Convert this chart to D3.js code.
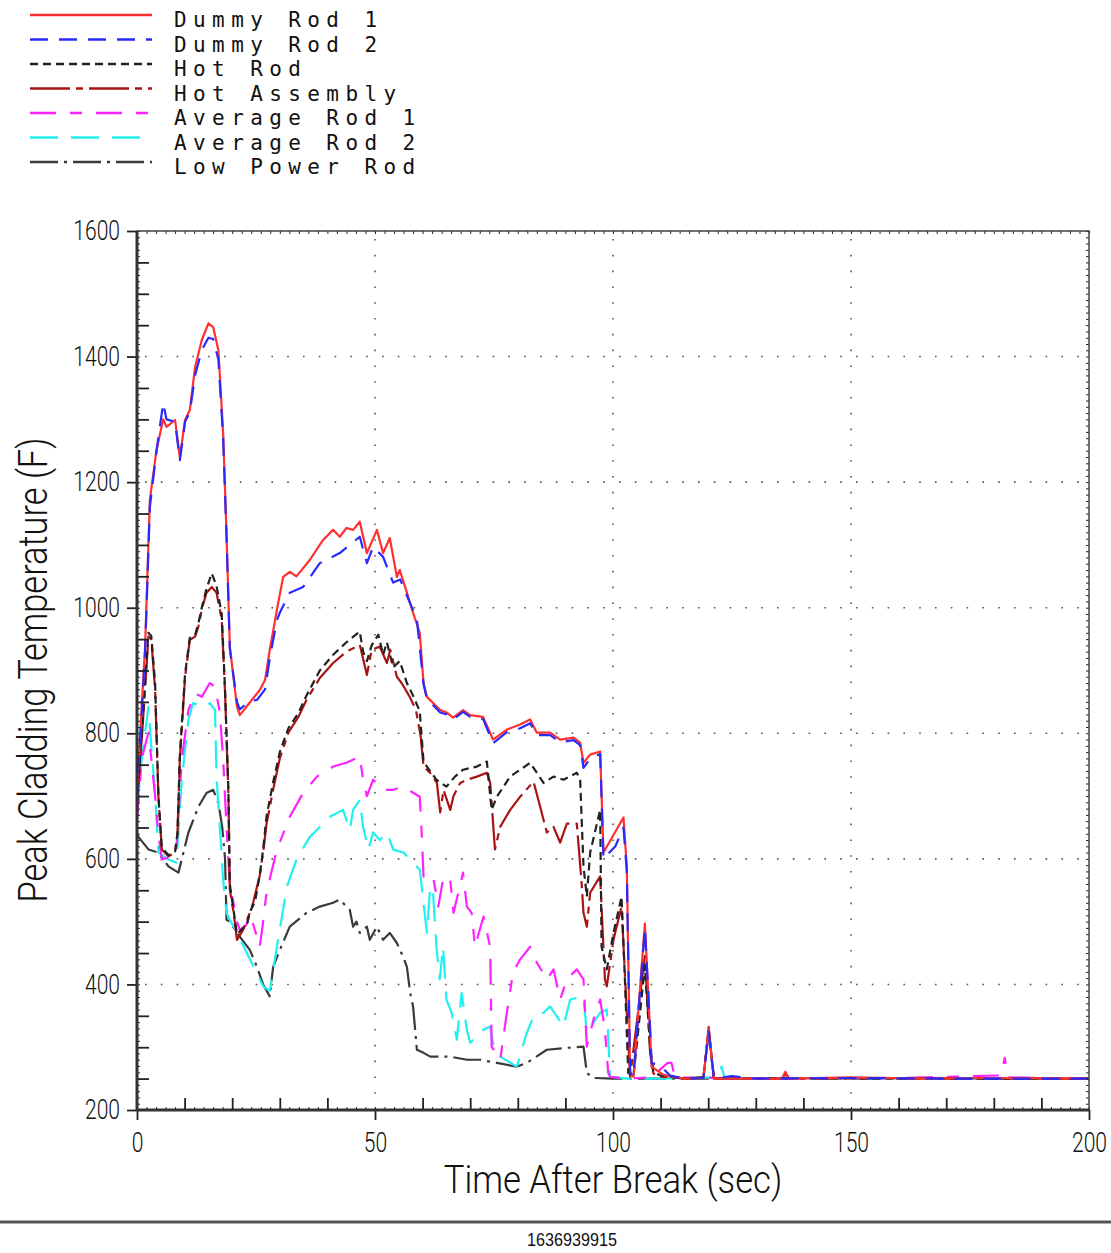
<!DOCTYPE html>
<html>
<head>
<meta charset="utf-8">
<script src="https://cdn.jsdelivr.net/npm/d3@7"></script>
<style>
  html, body { margin: 0; padding: 0; background: #fff; }
  svg { display: block; }
</style>
</head>
<body>
<svg id="chart" width="1111" height="1253"></svg>
<script>
// Peak cladding temperature vs time after break, seven rod groups.
// Values: [time (sec), temperature (F)].

const seriesNames = ['Dummy Rod 1', 'Dummy Rod 2', 'Hot Rod', 'Hot Assembly', 'Average Rod 1', 'Average Rod 2', 'Low Power Rod'];

const dummyRod1 = [
  [0,700],[0.6,790],[1.7,938],[2.7,1172],[4.1,1251],[5.5,1300],[6.2,1288],[8,1299],[9,1239],[10.1,1299],[11.1,1315],
  [12.2,1383],[13.6,1426],[15,1453],[16,1447],[17.1,1410],[18.1,1278],[18.8,1119],[19.5,938],[21,843],[21.6,829],
  [23.7,849],[25.8,869],[26.9,885],[27.9,933],[29.4,997],[30.7,1049],[32.1,1057],[33.5,1050],[36.3,1076],[39.1,1108],
  [41.2,1124],[42.6,1113],[44,1127],[45.4,1124],[46.8,1137],[48.3,1087],[50.4,1124],[51.7,1087],[53.1,1111],[54.6,1049],
  [55.2,1060],[56.7,1024],[58,992],[59.4,960],[60.2,880],[60.9,858],[63.7,837],[65.1,833],[66.4,825],[68.5,837],
  [70,829],[72.7,826],[74.8,790],[77.7,806],[80.5,814],[82.6,822],[84,801],[86.8,801],[88.9,790],[91.7,793],
  [93.1,785],[93.8,753],[95.2,766],[97.3,771],[98,610],[102.2,666],[102.9,588],[103.6,259],[104.3,253],[106.7,497],
  [107.8,323],[108.1,269],[110.6,256],[115,250],[119,251],[120.1,330],[121.2,250],[130,250],[135.5,250],[136.2,261],
  [137,250],[150,252],[165,250],[180,251],[200,250]
];

const dummyRod2 = [
  [0,690],[0.6,780],[1.7,930],[2.7,1160],[4.1,1250],[5.5,1326],[6.2,1300],[8,1296],[9,1235],[10.1,1296],[11.1,1312],
  [12.2,1370],[13.6,1410],[15,1430],[16,1428],[17.1,1395],[18.1,1270],[18.8,1115],[19.5,935],[21,850],[21.6,838],
  [23.7,852],[25.2,853],[26.9,870],[27.9,920],[29.4,980],[30,992],[32.1,1024],[34.9,1033],[38.4,1071],[42.6,1087],
  [46.8,1113],[48.3,1071],[49.6,1097],[51.7,1081],[53.8,1040],[55.3,1045],[58.8,981],[60.2,878],[60.9,855],[63.7,833],
  [65.1,830],[66.4,822],[68.5,834],[70,826],[72.7,823],[74.8,784],[77.7,802],[80.5,808],[82.6,816],[84,797],
  [86.8,797],[88.9,786],[91.7,789],[93.1,781],[93.8,745],[95.2,760],[97.3,767],[98,600],[100.5,620],[102.2,650],
  [102.9,580],[103.6,259],[104.3,253],[106.7,490],[107.8,330],[108.1,275],[110,270],[112,255],[115,250],[119,251],
  [120.1,325],[121.2,250],[125,254],[130,250],[150,251],[170,250],[200,250]
];

const hotRod = [
  [0,690],[1,800],[2.4,960],[3,955],[3.8,880],[4.5,700],[5.2,618],[6.6,606],[8,612],[8.5,640],[9,765],[10.1,895],
  [11.1,952],[12.2,957],[12.9,975],[13.6,1000],[14.6,1030],[15.7,1055],[16.7,1035],[17.8,990],[18.5,870],[19.2,710],
  [19.5,560],[21,480],[22.3,490],[23.1,495],[23.7,515],[24.8,532],[25.8,575],[26.5,615],[27.2,667],[28.6,722],[30,770],
  [31.8,808],[33.9,832],[35.6,860],[38.4,900],[41.2,925],[44,945],[46.8,962],[47.5,930],[48.3,915],[49.3,940],
  [50.7,957],[51.7,925],[52.5,945],[53.8,905],[55.2,915],[56.7,880],[58,860],[59.4,835],[60.2,755],[60.9,747],
  [62.9,726],[65,715],[66.8,731],[68.5,742],[71.4,747],[73.5,755],[74.5,678],[75.6,699],[78.4,731],[80.5,742],
  [82.6,753],[85.4,721],[87.5,731],[89.6,726],[92.4,737],[93.1,726],[93.8,588],[94.5,540],[95.2,610],[97.3,678],
  [97.6,460],[98.7,424],[100.1,482],[101.8,540],[102.5,408],[103.2,259],[104.3,253],[106.7,430],[107.8,300],
  [108.5,260],[110,255],[115,250],[119,252],[120.1,325],[121.2,250],[140,251],[160,250],[200,250]
];

const hotAssembly = [
  [0,690],[1,790],[2.4,954],[3,950],[3.8,870],[4.5,700],[5.2,615],[6.6,604],[8,610],[8.5,640],[9,758],[10.1,890],
  [11.1,949],[12.2,954],[12.9,970],[13.6,997],[14.6,1024],[15.7,1033],[16.7,1024],[17.8,981],[18.5,864],[19.2,705],
  [19.5,551],[20.3,514],[21,471],[22.3,487],[23.7,514],[24.4,530],[25.8,574],[26.5,610],[27.2,655],[28.6,710],[30,760],
  [31.8,801],[33.9,826],[35.6,853],[38.4,888],[41.2,912],[44,930],[46.8,941],[48.3,893],[49.3,933],[51,938],
  [52.5,912],[53.2,933],[54.6,890],[55.6,880],[57.3,858],[58.6,837],[59.6,795],[60.2,747],[61.6,737],[63,721],
  [63.7,674],[64.4,710],[65.8,678],[66.5,700],[67.9,721],[69.3,726],[71.4,731],[73.5,737],[74.2,721],[75.2,615],
  [76.3,651],[78.4,678],[80.5,699],[83.3,723],[84.7,683],[86.1,642],[87.5,651],[88.9,626],[90.3,656],[92.4,656],
  [93.4,562],[93.8,514],[94.5,492],[95.2,546],[97.3,572],[98.3,408],[98.7,397],[100.1,471],[101.8,524],[102.9,355],
  [103.6,253],[106.7,445],[107.8,290],[108.5,258],[110,253],[115,250],[119,252],[120.1,332],[121.2,250],[135.5,250],
  [136.2,258],[137,250],[160,251],[185,250],[200,250]
];

const averageRod1 = [
  [0,660],[1,760],[2.4,801],[3,760],[3.8,700],[4.5,640],[5.2,599],[7.3,604],[8.3,620],[9.4,758],[10.8,837],[12.2,864],
  [13.6,858],[15.3,880],[16.4,874],[17.4,833],[18.1,758],[18.8,651],[19.5,560],[21,500],[21.6,487],[23,495],[23.7,514],
  [25.8,460],[26.5,500],[27.2,546],[29.4,615],[32.1,667],[34.9,705],[37.8,731],[41.2,747],[44,753],[46.8,763],
  [47.5,726],[48.3,700],[49.6,726],[51.7,710],[53.8,710],[55.9,715],[59.4,699],[59.8,642],[60.2,572],[60.9,567],
  [62.2,572],[63.3,524],[64.4,572],[65.8,567],[66.5,514],[68.5,578],[69.3,524],[70.3,514],[71,460],[72.8,508],
  [74.2,460],[74.5,301],[76.3,280],[77.7,355],[79,419],[80.5,440],[82.6,460],[84,435],[86.1,408],[87.5,424],
  [88.9,376],[90.3,408],[92.4,424],[93.8,408],[94.5,301],[95.9,344],[97.3,376],[98.3,328],[99,259],[99.4,253],
  [103,250],[108,252],[111.5,275],[112.3,275],[113,252],[130,250],[160,251],[181.5,255],[182.3,283],[183,252],[200,250]
];

const averageRod2 = [
  [0,673],[1,760],[2.4,842],[3,780],[3.8,705],[4.5,610],[6.6,599],[8.3,594],[9.4,726],[10.8,822],[11.8,848],
  [12.9,845],[14.3,842],[15.3,848],[16.4,837],[16.7,731],[17.4,651],[18.1,567],[18.8,514],[19.5,503],[21,482],
  [25.1,419],[26.5,397],[27.9,390],[29.4,460],[31.5,556],[33.5,599],[36.3,635],[37.8,646],[40.5,667],[43.3,678],
  [44.7,646],[45.4,678],[46.8,694],[47.5,651],[48.6,615],[49.6,642],[51,630],[52.5,642],[53.8,615],[56,610],
  [57.3,599],[59.4,583],[60.9,482],[61.6,556],[62.2,546],[62.9,460],[63.6,408],[64.3,460],[65,376],[66.1,355],
  [67.2,312],[68.2,386],[69.3,328],[70,307],[72.8,328],[74.2,333],[74.9,301],[76.3,285],[79.8,269],[81.9,323],
  [83.3,349],[85.4,355],[86.8,365],[89.6,333],[91,376],[93.8,381],[94.5,323],[97.3,355],[98.7,360],[99.4,253],
  [103,250],[110,250],[122,252],[122.8,269],[123.5,250],[150,251],[175,250],[200,250]
];

const lowPowerRod = [
  [0,640],[0.3,635],[2.4,615],[4.5,610],[6.6,588],[8.7,578],[10.8,642],[12.9,683],[14.6,705],[16,710],[17.1,689],
  [17.9,651],[18.5,600],[18.8,503],[19.5,500],[21,482],[23.7,455],[25.2,428],[26.5,400],[27.9,381],[28.6,428],
  [30,455],[32.1,492],[35.6,514],[38.4,524],[41.2,530],[42.6,535],[44,524],[44.7,519],[45.4,492],[46.1,500],
  [46.8,482],[48.3,492],[48.9,471],[50.4,492],[51.7,471],[53.1,482],[54.6,466],[55.9,444],[56.7,428],[57.4,386],
  [58,365],[58.8,296],[60.2,291],[61.6,285],[65.8,285],[69.3,280],[72.1,280],[75.6,275],[79.8,269],[81.9,275],
  [86.1,296],[90.3,299],[93.8,301],[94.5,259],[95.9,251],[100,250],[200,250]
];

const yMajorTicks = [200, 400, 600, 800, 1000, 1200, 1400, 1600];
const xMajorTicks = [0, 50, 100, 150, 200];
const xGridTicks = [50, 100, 150];
const yGridTicks = [400, 600, 800, 1000, 1200, 1400];

const series = [
  { name: seriesNames[6], data: lowPowerRod, color: '#3a3a3a', dash: '28,6,3,6' },
  { name: seriesNames[5], data: averageRod2, color: '#22f0f0', dash: '28,13' },
  { name: seriesNames[4], data: averageRod1, color: '#ff22ff', dash: '26,14,12,14' },
  { name: seriesNames[3], data: hotAssembly, color: '#a81414', dash: '40,6,7,6' },
  { name: seriesNames[2], data: hotRod, color: '#222', dash: '8,5' },
  { name: seriesNames[0], data: dummyRod1, color: '#ff3030', dash: null },
  { name: seriesNames[1], data: dummyRod2, color: '#2a2aff', dash: '18,11' }
];

const svg = d3.select('#chart');
const plotLeft = 137, plotRight = 1089, plotTop = 231, plotBottom = 1110;
const labelFont = 'Roboto, Liberation Sans, Arial, sans-serif';

const x = d3.scaleLinear().domain([0, 200]).range([plotLeft, plotRight]);
const y = d3.scaleLinear().domain([200, 1600]).range([plotBottom, plotTop]);

// Legend
const legend = svg.append('g');
const legendOrder = [5, 6, 4, 3, 2, 1, 0];
legendOrder.forEach((si, i) => {
  const s = series[si];
  const ly = 15 + i * 24.5;
  legend.append('line')
    .attr('x1', 30).attr('x2', 152).attr('y1', ly).attr('y2', ly)
    .attr('stroke', s.color).attr('stroke-width', 2.5)
    .attr('stroke-dasharray', s.dash);
  legend.append('text')
    .attr('x', 174).attr('y', ly + 12)
    .attr('font-family', 'DejaVu Sans Mono, monospace')
    .attr('font-size', 21)
    .attr('letter-spacing', 6.4)
    .attr('fill', '#111')
    .text(s.name);
});

// Dotted grid
const grid = svg.append('g').attr('stroke', '#555').attr('stroke-width', 1.6).attr('stroke-dasharray', '1.6,14.2');
grid.selectAll('.gx').data(xGridTicks).enter().append('line')
  .attr('x1', d => x(d)).attr('x2', d => x(d)).attr('y1', plotTop + 8).attr('y2', plotBottom);
grid.selectAll('.gy').data(yGridTicks).enter().append('line')
  .attr('x1', plotLeft + 8).attr('x2', plotRight).attr('y1', d => y(d)).attr('y2', d => y(d));

// Data lines
const line = d3.line().x(d => x(d[0])).y(d => y(d[1]));
svg.append('g').selectAll('path')
  .data(series).enter().append('path')
  .attr('d', d => line(d.data))
  .attr('fill', 'none')
  .attr('stroke', d => d.color)
  .attr('stroke-width', 2.2)
  .attr('stroke-linejoin', 'round')
  .attr('stroke-dasharray', d => d.dash);

// Axes
const tickStyle = g => {
  g.select('.domain').remove();
  g.selectAll('line').attr('stroke', '#222').attr('stroke-width', 1.8);
};

const range = (a, b, s) => d3.range(a, b + s / 2, s);

// y axis: tiny, minor inward, major outward
svg.append('g').attr('transform', `translate(${plotLeft},0)`)
  .call(d3.axisLeft(y).tickValues(range(200, 1600, 10)).tickSize(-3).tickFormat(''))
  .call(tickStyle).selectAll('line').attr('stroke-width', 1);
svg.append('g').attr('transform', `translate(${plotLeft},0)`)
  .call(d3.axisLeft(y).tickValues(range(250, 1550, 50).filter(v => v % 200 !== 0)).tickSize(-12).tickFormat(''))
  .call(tickStyle);
const yAxis = svg.append('g').attr('transform', `translate(${plotLeft},0)`)
  .call(d3.axisLeft(y).tickValues(yMajorTicks).tickSize(10).tickFormat(d3.format('d')))
  .call(tickStyle);
yAxis.selectAll('text')
  .attr('font-family', labelFont)
  .attr('font-weight', 300)
  .attr('font-size', 27)
  .attr('fill', '#111')
  .attr('transform', 'scale(0.78,1)')
  .attr('x', -17 / 0.78);

// right border ticks
svg.append('g').attr('transform', `translate(${plotRight},0)`)
  .call(d3.axisRight(y).tickValues(range(200, 1600, 10)).tickSize(-3).tickFormat(''))
  .call(tickStyle).selectAll('line').attr('stroke-width', 1);

// x axis
svg.append('g').attr('transform', `translate(0,${plotBottom})`)
  .call(d3.axisBottom(x).tickValues(range(0, 200, 2)).tickSize(-3).tickFormat(''))
  .call(tickStyle).selectAll('line').attr('stroke-width', 1);
svg.append('g').attr('transform', `translate(0,${plotBottom})`)
  .call(d3.axisBottom(x).tickValues(range(10, 190, 10).filter(v => v % 50 !== 0)).tickSize(-12).tickFormat(''))
  .call(tickStyle);
const xAxis = svg.append('g').attr('transform', `translate(0,${plotBottom})`)
  .call(d3.axisBottom(x).tickValues(xMajorTicks).tickSize(10).tickFormat(d3.format('d')))
  .call(tickStyle);
xAxis.selectAll('text')
  .attr('font-family', labelFont)
  .attr('font-weight', 300)
  .attr('font-size', 27)
  .attr('fill', '#111')
  .attr('transform', 'scale(0.78,1)')
  .attr('y', 23);

// top border ticks
svg.append('g').attr('transform', `translate(0,${plotTop})`)
  .call(d3.axisTop(x).tickValues(range(0, 200, 2)).tickSize(-3).tickFormat(''))
  .call(tickStyle).selectAll('line').attr('stroke-width', 1);

// frame
svg.append('rect')
  .attr('x', plotLeft).attr('y', plotTop).attr('width', plotRight - plotLeft).attr('height', plotBottom - plotTop)
  .attr('fill', 'none').attr('stroke', '#444').attr('stroke-width', 1.5);
svg.append('line').attr('x1', plotLeft).attr('x2', plotLeft).attr('y1', plotTop).attr('y2', plotBottom)
  .attr('stroke', '#333').attr('stroke-width', 3);
svg.append('line').attr('x1', plotLeft).attr('x2', plotRight).attr('y1', plotBottom).attr('y2', plotBottom)
  .attr('stroke', '#333').attr('stroke-width', 3);

// axis titles
svg.append('text')
  .attr('transform', `translate(613,1193) scale(0.89,1)`)
  .attr('text-anchor', 'middle')
  .attr('font-family', labelFont)
  .attr('font-weight', 300)
  .attr('font-size', 39)
  .attr('fill', '#111')
  .text('Time After Break (sec)');

svg.append('text')
  .attr('transform', `translate(47,670) rotate(-90) scale(0.86,1)`)
  .attr('text-anchor', 'middle')
  .attr('font-family', labelFont)
  .attr('font-weight', 300)
  .attr('font-size', 40)
  .attr('fill', '#111')
  .text('Peak Cladding Temperature (F)');

// footer rule and id
svg.append('line').attr('x1', 0).attr('x2', 1111).attr('y1', 1222).attr('y2', 1222)
  .attr('stroke', '#555').attr('stroke-width', 3);
svg.append('text')
  .attr('transform', 'translate(572,1246) scale(0.85,1)')
  .attr('text-anchor', 'middle')
  .attr('font-family', 'Liberation Sans, Arial, sans-serif')
  .attr('font-size', 19)
  .attr('fill', '#111')
  .text('1636939915');
</script>
</body>
</html>
